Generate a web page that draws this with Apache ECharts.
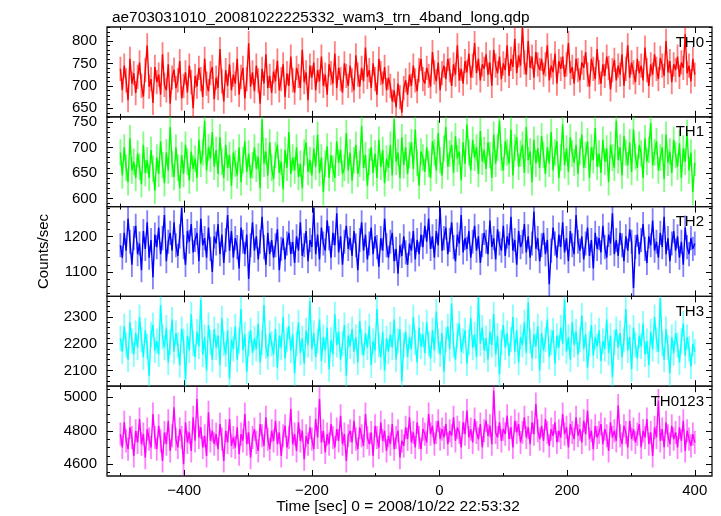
<!DOCTYPE html>
<html><head><meta charset="utf-8">
<script src="https://cdn.jsdelivr.net/npm/echarts@6/dist/echarts.min.js"></script>
<style>html,body{margin:0;padding:0;background:#fff}#c{width:721px;height:516px}</style>
</head><body><div id="c"></div>
<script>
// ---- data (3-second samples from t = -500 s to t = 400 s) ----
const timeStart = -500;
const timeStep = 3;

const th0 = [
738,690,745,712,668,760,705,728,684,720,
752,700,676,735,790,698,715,662,742,708,
725,680,770,702,690,748,660,718,736,695,
712,755,672,700,730,685,745,708,650,722,
698,740,715,675,760,705,688,728,742,670,
718,695,782,710,665,735,700,748,690,725,
705,760,680,720,740,672,715,795,698,730,
688,745,712,660,738,705,770,695,722,684,
732,710,756,690,715,748,675,728,700,765,
712,685,740,722,695,780,708,730,668,745,
718,752,690,735,710,765,700,725,680,748,
728,705,772,695,740,715,685,750,722,700,
745,712,690,768,725,698,740,710,785,720,
735,695,750,715,680,760,728,705,742,690,
718,700,665,690,652,705,675,640,695,712,
680,725,700,745,712,688,735,760,715,705,
740,722,698,775,730,710,752,690,728,745,
715,760,735,700,748,725,790,712,738,705,
755,730,772,718,745,795,728,760,712,748,
738,770,725,752,700,780,745,728,765,715,
750,735,790,722,760,742,805,728,768,745,
830,752,725,800,740,765,718,775,748,735,
760,725,748,790,712,745,730,772,705,755,
738,765,720,748,795,728,742,705,760,735,
712,752,740,775,725,698,760,738,715,782,
730,705,748,722,765,740,692,735,758,712,
745,725,770,700,738,790,718,752,730,708,
760,728,745,712,785,735,700,748,725,770,
738,715,762,745,722,800,730,755,708,748,
735,765,720,752,740,815,728,745,710,760,
725];

const th1 = [
690,645,700,660,632,718,655,672,640,688,
662,628,705,650,675,640,695,658,615,680,
648,712,665,630,690,655,740,668,642,700,
660,620,685,648,705,672,635,692,658,678,
640,715,668,690,752,655,700,678,730,662,
695,648,720,672,640,705,660,685,625,690,
668,645,700,632,675,712,652,688,640,665,
700,658,682,620,755,668,692,645,710,660,
638,685,705,650,672,618,695,660,730,648,
680,655,700,642,668,620,690,710,652,675,
645,698,662,725,650,680,612,668,702,640,
685,658,640,712,670,695,648,660,728,655,
690,635,675,705,648,668,742,660,685,625,
672,700,650,688,640,715,662,695,630,678,
660,705,645,755,672,690,640,720,665,700,
648,685,710,658,735,670,625,692,680,652,
700,668,640,712,690,655,728,675,645,698,
740,662,688,705,650,722,678,692,635,710,
668,745,690,655,715,680,700,648,732,672,
695,658,710,685,640,725,668,700,752,680,
655,712,690,668,735,645,700,720,662,688,
705,650,740,675,692,632,715,668,698,660,
722,685,648,700,668,730,655,690,712,640,
680,745,665,698,652,720,688,670,705,648,
692,725,660,685,712,640,700,675,738,662,
688,650,715,672,698,632,705,680,660,752,
675,700,645,722,690,665,710,652,735,682,
660,705,688,640,718,672,695,748,665,690,
712,655,680,700,638,725,670,692,650,715,
685,662,708,640,698,672,728,655,690,612,
670];

const th2 = [
1175,1140,1210,1160,1250,1185,1120,1195,1230,1150,
1180,1105,1215,1165,1240,1140,1190,1085,1205,1170,
1225,1150,1195,1260,1130,1185,1210,1160,1240,1175,
1145,1200,1280,1170,1120,1215,1185,1235,1155,1190,
1210,1130,1250,1175,1195,1140,1225,1165,1100,1200,
1180,1235,1150,1205,1125,1190,1260,1160,1215,1140,
1195,1170,1110,1225,1185,1150,1205,1080,1175,1240,
1160,1200,1135,1185,1255,1170,1120,1210,1150,1190,
1140,1175,1220,1105,1165,1195,1135,1180,1210,1150,
1185,1125,1200,1160,1240,1145,1175,1215,1130,1190,
1170,1280,1150,1205,1135,1225,1180,1160,1245,1195,
1140,1210,1175,1265,1155,1200,1120,1185,1230,1165,
1195,1145,1215,1175,1105,1190,1240,1160,1205,1135,
1180,1225,1150,1200,1170,1115,1195,1160,1250,1175,
1140,1185,1210,1130,1165,1095,1175,1145,1200,1155,
1120,1180,1160,1215,1135,1190,1150,1205,1170,1230,
1185,1250,1165,1200,1140,1215,1175,1280,1160,1195,
1225,1150,1190,1240,1170,1130,1205,1180,1260,1155,
1195,1165,1215,1140,1185,1230,1160,1200,1125,1175,
1210,1185,1150,1245,1170,1195,1135,1220,1180,1160,
1230,1145,1200,1175,1255,1160,1190,1120,1215,1170,
1185,1235,1155,1200,1140,1180,1270,1165,1195,1130,
1175,1210,1150,1190,1065,1160,1225,1180,1140,1205,
1170,1240,1155,1195,1130,1215,1175,1150,1260,1185,
1160,1200,1135,1180,1225,1145,1190,1110,1210,1165,
1195,1155,1230,1170,1140,1205,1180,1265,1150,1190,
1145,1210,1175,1130,1200,1160,1220,1185,1055,1170,
1205,1150,1190,1235,1165,1125,1200,1175,1245,1160,
1185,1140,1210,1170,1255,1150,1195,1130,1180,1215,
1160,1200,1140,1185,1120,1225,1170,1150,1195,1165,
1180];

const th3 = [
2220,2170,2265,2195,2140,2280,2210,2160,2240,2185,
2300,2215,2150,2250,2190,2080,2235,2270,2175,2210,
2160,2345,2225,2185,2260,2130,2205,2290,2170,2240,
2195,2120,2255,2210,2065,2230,2175,2310,2200,2150,
2245,2190,2365,2160,2225,2100,2270,2205,2140,2255,
2185,2230,2120,2295,2200,2160,2250,2070,2215,2180,
2265,2140,2210,2330,2175,2235,2095,2200,2250,2165,
2220,2180,2275,2130,2205,2345,2190,2150,2240,2200,
2160,2255,2110,2230,2185,2300,2145,2215,2265,2175,
2235,2090,2200,2280,2165,2220,2125,2250,2195,2360,
2180,2240,2150,2210,2290,2135,2225,2175,2260,2105,
2215,2160,2310,2195,2245,2140,2200,2270,2080,2230,
2190,2255,2170,2225,2130,2285,2205,2155,2240,2185,
2265,2120,2210,2175,2330,2195,2150,2245,2100,2220,
2170,2235,2185,2290,2140,2210,2255,2060,2195,2245,
2150,2225,2180,2300,2205,2130,2260,2190,2235,2165,
2280,2200,2145,2250,2175,2320,2210,2160,2240,2095,
2215,2265,2180,2350,2195,2140,2230,2275,2170,2210,
2250,2125,2205,2295,2185,2235,2150,2375,2200,2260,
2175,2220,2140,2245,2195,2310,2160,2230,2085,2205,
2270,2185,2240,2155,2215,2300,2170,2250,2130,2225,
2195,2280,2165,2355,2210,2145,2235,2190,2265,2100,
2240,2175,2215,2290,2150,2205,2250,2125,2230,2185,
2260,2200,2365,2170,2225,2140,2280,2195,2245,2160,
2215,2305,2180,2235,2110,2200,2270,2155,2225,2190,
2250,2135,2210,2180,2290,2165,2230,2075,2205,2255,
2185,2240,2150,2215,2330,2175,2225,2105,2260,2195,
2145,2230,2190,2275,2160,2210,2120,2245,2180,2300,
2215,2170,2370,2200,2140,2255,2185,2090,2225,2165,
2240,2195,2130,2210,2275,2155,2225,2180,2115,2200,
2170];

const th0123 = [
4780,4700,4850,4740,4690,4820,4760,4650,4800,4730,
4870,4720,4780,4640,4810,4750,4700,4900,4760,4690,
4830,4740,4620,4790,4720,4860,4680,4770,4940,4750,
4700,4810,4760,4600,4850,4730,4790,4680,4880,4740,
4990,4760,4820,4700,4770,4650,4910,4740,4800,4720,
4780,4690,4840,4750,4620,4800,4730,4870,4710,4760,
4700,4820,4660,4780,4740,4900,4720,4790,4640,4760,
4810,4730,4680,4840,4770,4710,4880,4750,4690,4800,
4740,4860,4720,4790,4650,4770,4830,4700,4760,4930,
4720,4780,4680,4850,4740,4800,4630,4770,4720,4820,
4750,4690,4870,4760,4990,4730,4800,4670,4780,4720,
4840,4760,4700,4810,4740,4890,4720,4780,4620,4770,
4800,4730,4860,4750,4690,4820,4770,4710,4900,4760,
4720,4790,4650,4830,4760,4700,4850,4740,4800,4680,
4770,4720,4840,4690,4760,4800,4640,4740,4710,4820,
4750,4880,4730,4790,4700,4850,4760,4690,4810,4780,
4730,4900,4780,4830,4720,4790,4860,4750,4810,4760,
4840,4720,4800,4770,4880,4740,4820,4790,4700,4850,
4780,4920,4760,4810,4730,4870,4790,4750,4840,4700,
4800,4860,4770,4830,4720,5040,4790,4760,4850,4740,
4810,4780,4890,4750,4820,4700,4860,4790,4840,4730,
4790,4880,4760,4820,4720,4850,4780,4960,4800,4750,
4830,4740,4870,4790,4710,4810,4770,4850,4730,4800,
4760,4900,4780,4820,4700,4840,4790,4750,4880,4770,
4810,4730,4860,4780,4920,4750,4800,4690,4830,4760,
4790,4840,4720,4810,4770,4680,4850,4760,4800,4740,
4950,4770,4720,4830,4790,4700,4860,4750,4810,4730,
4780,4840,4700,4800,4760,4870,4720,4790,4650,4820,
4760,4980,4740,4810,4700,4850,4770,4720,4830,4750,
4790,4700,4820,4740,4860,4680,4800,4750,4710,4780,
4730];

// per-band 1-sigma error (counts/sec)
const bandErrors = [27, 26, 34, 47, 69];
const bandNames = ['TH0', 'TH1', 'TH2', 'TH3', 'TH0123'];
const bandValues = [th0, th1, th2, th3, th0123];

// axis ranges and tick values
const xRange = [-521, 427];
const xMajorTicks = [-400, -200, 0, 200, 400];
const xMinorTicks = [-500, -300, -100, 100, 300];
const yRanges = [[631, 831], [584, 760], [1031, 1284], [2041, 2377], [4530, 5066]];
const yMajorTicks = [[650, 700, 750, 800], [600, 650, 700, 750], [1100, 1200], [2100, 2200, 2300], [4600, 4800, 5000]];
const yMinorSteps = [10, 10, 20, 20, 50];

const titleText = 'ae703031010_20081022225332_wam3_trn_4band_long.qdp';
const xTitle = 'Time [sec] 0 = 2008/10/22 22:53:32';
const yTitle = 'Counts/sec';

// ---- styling ----
const lineColors = ['#ff0000', '#00ff00', '#0000ff', '#00ffff', '#ff00ff'];
const errColors = ['rgba(255,0,0,0.5)', 'rgba(0,255,0,0.5)', 'rgba(0,0,255,0.5)', 'rgba(0,255,255,0.5)', 'rgba(255,0,255,0.5)'];
const FONT = 'Liberation Sans';
const gridLeft = 107, gridRight = 712, gridTop = 27, gridBottom = 476;
const nPanels = 5;
const panelH = (gridBottom - gridTop) / nPanels;

function minorList(range, step, majors) {
  const out = [];
  for (let v = Math.ceil(range[0] / step) * step; v <= range[1]; v += step) {
    if (majors.indexOf(v) < 0) out.push(v);
  }
  return out;
}
const fmtX = v => (v < 0 ? '\u2212' + Math.abs(v) : String(v));
const fmtY = v => String(v);

const grids = [], xAxes = [], yAxes = [], series = [], titles = [];
for (let g = 0; g < nPanels; g++) {
  const top = gridTop + g * panelH;
  grids.push({left: gridLeft, width: gridRight - gridLeft, top: top, height: panelH,
    show: true, borderColor: '#111', borderWidth: 1.3, backgroundColor: 'transparent'});

  const mkX = (pos, ticks, len, lab) => ({
    gridIndex: g, type: 'value', position: pos, min: xRange[0], max: xRange[1],
    axisLine: {show: false, onZero: false}, splitLine: {show: false},
    axisTick: {show: true, inside: true, length: len, customValues: ticks, lineStyle: {color: '#000', width: 1}},
    axisLabel: {show: lab, customValues: ticks, formatter: fmtX, margin: 7, fontSize: 15, color: '#000', fontFamily: FONT}
  });
  xAxes.push(mkX('bottom', xMajorTicks, 6, g === nPanels - 1));
  xAxes.push(mkX('bottom', xMinorTicks, 3, false));
  xAxes.push(mkX('top', xMajorTicks, 6, false));
  xAxes.push(mkX('top', xMinorTicks, 3, false));

  const yMin = minorList(yRanges[g], yMinorSteps[g], yMajorTicks[g]);
  const mkY = (pos, ticks, len, lab) => ({
    gridIndex: g, type: 'value', position: pos, min: yRanges[g][0], max: yRanges[g][1],
    axisLine: {show: false, onZero: false}, splitLine: {show: false},
    axisTick: {show: true, inside: true, length: len, customValues: ticks, lineStyle: {color: '#000', width: 1}},
    axisLabel: {show: lab, customValues: ticks, formatter: fmtY, margin: 10, fontSize: 15, color: '#000', fontFamily: FONT}
  });
  const yMain = mkY('left', yMajorTicks[g], 6, true);
  if (g === 2) {
    yMain.name = yTitle; yMain.nameLocation = 'middle'; yMain.nameGap = 56;
    yMain.nameTextStyle = {fontSize: 15, color: '#000', fontFamily: FONT};
  }
  yAxes.push(yMain);
  yAxes.push(mkY('left', yMin, 3, false));
  yAxes.push(mkY('right', yMajorTicks[g], 6, false));
  yAxes.push(mkY('right', yMin, 3, false));

  const vals = bandValues[g];
  const err = bandErrors[g];
  const pts = vals.map((v, i) => [timeStart + i * timeStep, v, err]);
  const ec = errColors[g];
  series.push({
    type: 'custom', xAxisIndex: g * 4, yAxisIndex: g * 4, clip: true, silent: true, z: 1,
    data: pts,
    renderItem: (params, api) => {
      const x = api.value(0), y = api.value(1), e = api.value(2);
      const p1 = api.coord([x, y - e]), p2 = api.coord([x, y + e]);
      return {type: 'line', shape: {x1: p1[0], y1: p1[1], x2: p2[0], y2: p2[1]},
        style: {stroke: ec, lineWidth: 1.8}};
    }
  });
  series.push({
    type: 'line', xAxisIndex: g * 4, yAxisIndex: g * 4, z: 2, clip: true,
    data: pts.map(p => [p[0], p[1]]), showSymbol: false, symbol: 'none',
    lineStyle: {color: lineColors[g], width: 1.4}, silent: true
  });

  titles.push({text: bandNames[g], right: 721 - gridRight + 3, top: top + 3,
    textStyle: {fontSize: 15, fontWeight: 'normal', color: '#000', fontFamily: FONT}});
}
titles.push({text: titleText, left: gridLeft, top: 5,
  textStyle: {fontSize: 15.4, fontWeight: 'normal', color: '#000', fontFamily: FONT}});

const chart = echarts.init(document.getElementById('c'), null, {renderer: 'canvas'});
chart.setOption({
  animation: false,
  backgroundColor: '#fff',
  title: titles,
  grid: grids,
  xAxis: xAxes,
  yAxis: yAxes,
  series: series,
  graphic: [{type: 'text', x: 398, y: 499, silent: true,
    style: {text: xTitle, font: '15.5px "' + FONT + '"', fill: '#000', textAlign: 'center', textVerticalAlign: 'top'}}]
});
</script></body></html>
